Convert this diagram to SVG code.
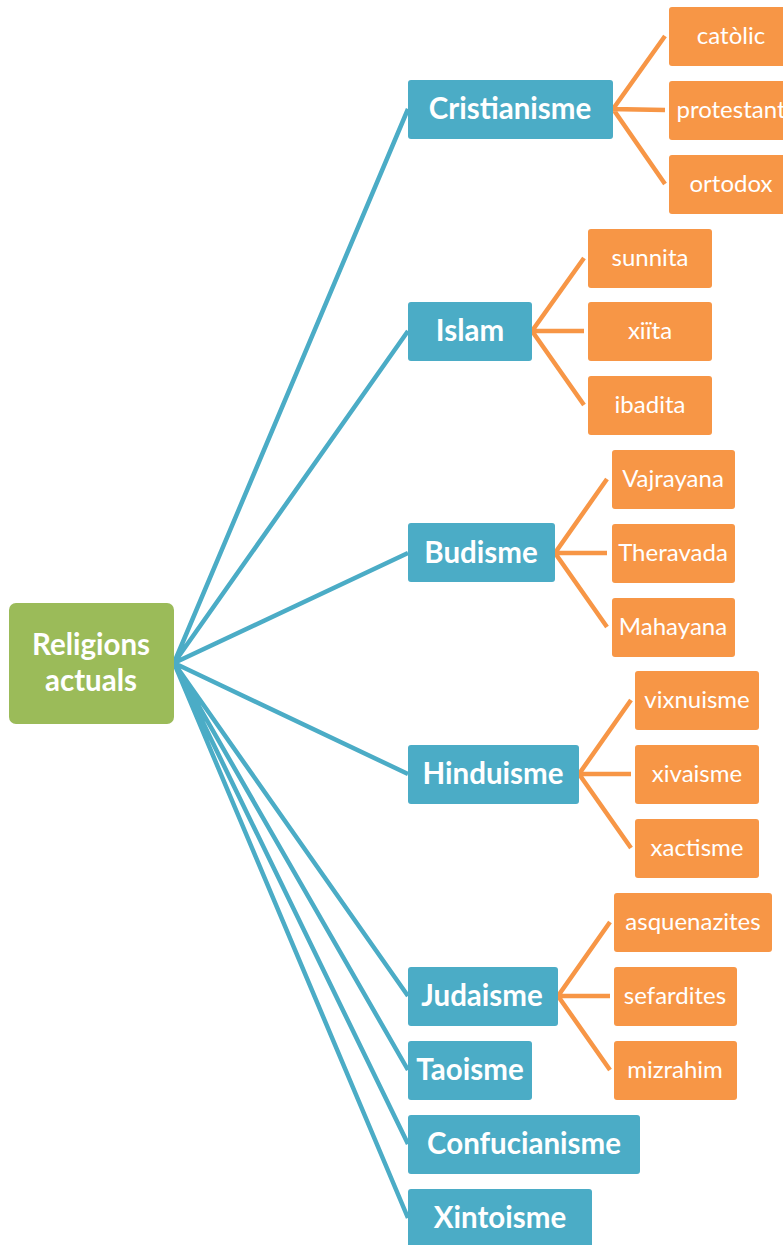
<svg xmlns="http://www.w3.org/2000/svg" width="783" height="1245" viewBox="0 0 783 1245">
<style>
.root{fill:#9BBB59}
.l1{fill:#4BACC6}
.l2{fill:#F79646}
.tb{font-family:Lato,"Open Sans",sans-serif;font-weight:bold;fill:#fff;text-anchor:middle;font-size:29.5px}
.tr{font-family:Lato,"Open Sans",sans-serif;fill:#fff;text-anchor:middle;font-size:24px}
.cb{stroke:#4BACC6;stroke-width:4.5;fill:none}
.co{stroke:#F79646;stroke-width:4.5;fill:none}
</style>
<rect width="783" height="1245" fill="#fff"/>
<g id="connectors">
<path class="cb" d="M174 663L408 109M174 663L408 331M174 663L408 553M174 663L408 774M174 663L408 996M174 663L408 1070M174 663L408 1144M174 663L408 1218"/>
<path class="co" d="M665 36L613 109L665 110M613 109L665 184"/>
<path class="co" d="M584 258L532 331L584 331M532 331L584 405"/>
<path class="co" d="M607 479L555 553L607 553M555 553L607 627"/>
<path class="co" d="M631 700L579 774L631 774M579 774L631 848"/>
<path class="co" d="M610 922L558 996L610 996M558 996L610 1070"/>
</g>
<g id="root"><rect class="root" x="9" y="603" width="165" height="121" rx="7"/><text class="tb" x="91" y="655">Religions</text><text class="tb" x="91" y="691">actuals</text></g>
<g id="cristianisme"><rect class="l1" x="408" y="80" width="205" height="59" rx="3"/><text class="tb" x="510" y="119">Cristianisme</text></g>
<g id="islam"><rect class="l1" x="408" y="302" width="124" height="59" rx="3"/><text class="tb" x="470" y="341">Islam</text></g>
<g id="budisme"><rect class="l1" x="408" y="523" width="147" height="59" rx="3"/><text class="tb" x="481" y="563">Budisme</text></g>
<g id="hinduisme"><rect class="l1" x="408" y="745" width="171" height="59" rx="3"/><text class="tb" x="493" y="784">Hinduisme</text></g>
<g id="judaisme"><rect class="l1" x="408" y="967" width="150" height="59" rx="3"/><text class="tb" x="482" y="1006">Judaisme</text></g>
<g id="taoisme"><rect class="l1" x="408" y="1041" width="124" height="59" rx="3"/><text class="tb" x="470" y="1080">Taoisme</text></g>
<g id="confucianisme"><rect class="l1" x="408" y="1115" width="232" height="59" rx="3"/><text class="tb" x="524" y="1154">Confucianisme</text></g>
<g id="xintoisme"><rect class="l1" x="408" y="1189" width="184" height="60" rx="3"/><text class="tb" x="500" y="1228">Xintoisme</text></g>
<g id="catolic"><rect class="l2" x="669" y="7" width="123" height="59" rx="3"/><text class="tr" x="731" y="44">catòlic</text></g>
<g id="protestant"><rect class="l2" x="669" y="81" width="123" height="59" rx="3"/><text class="tr" x="731" y="118">protestant</text></g>
<g id="ortodox"><rect class="l2" x="669" y="155" width="123" height="59" rx="3"/><text class="tr" x="731" y="192">ortodox</text></g>
<g id="sunnita"><rect class="l2" x="588" y="229" width="124" height="59" rx="3"/><text class="tr" x="650" y="266">sunnita</text></g>
<g id="xiita"><rect class="l2" x="588" y="302" width="124" height="59" rx="3"/><text class="tr" x="650" y="339">xiïta</text></g>
<g id="ibadita"><rect class="l2" x="588" y="376" width="124" height="59" rx="3"/><text class="tr" x="650" y="413">ibadita</text></g>
<g id="vajrayana"><rect class="l2" x="612" y="450" width="123" height="59" rx="3"/><text class="tr" x="673" y="487">Vajrayana</text></g>
<g id="theravada"><rect class="l2" x="612" y="524" width="123" height="59" rx="3"/><text class="tr" x="673" y="561">Theravada</text></g>
<g id="mahayana"><rect class="l2" x="612" y="598" width="123" height="59" rx="3"/><text class="tr" x="673" y="635">Mahayana</text></g>
<g id="vixnuisme"><rect class="l2" x="635" y="671" width="124" height="59" rx="3"/><text class="tr" x="697" y="708">vixnuisme</text></g>
<g id="xivaisme"><rect class="l2" x="635" y="745" width="124" height="59" rx="3"/><text class="tr" x="697" y="782">xivaisme</text></g>
<g id="xactisme"><rect class="l2" x="635" y="819" width="124" height="59" rx="3"/><text class="tr" x="697" y="856">xactisme</text></g>
<g id="asquenazites"><rect class="l2" x="614" y="893" width="158" height="59" rx="3"/><text class="tr" x="693" y="930">asquenazites</text></g>
<g id="sefardites"><rect class="l2" x="614" y="967" width="123" height="59" rx="3"/><text class="tr" x="675" y="1004">sefardites</text></g>
<g id="mizrahim"><rect class="l2" x="614" y="1041" width="123" height="59" rx="3"/><text class="tr" x="675" y="1078">mizrahim</text></g>
</svg>
